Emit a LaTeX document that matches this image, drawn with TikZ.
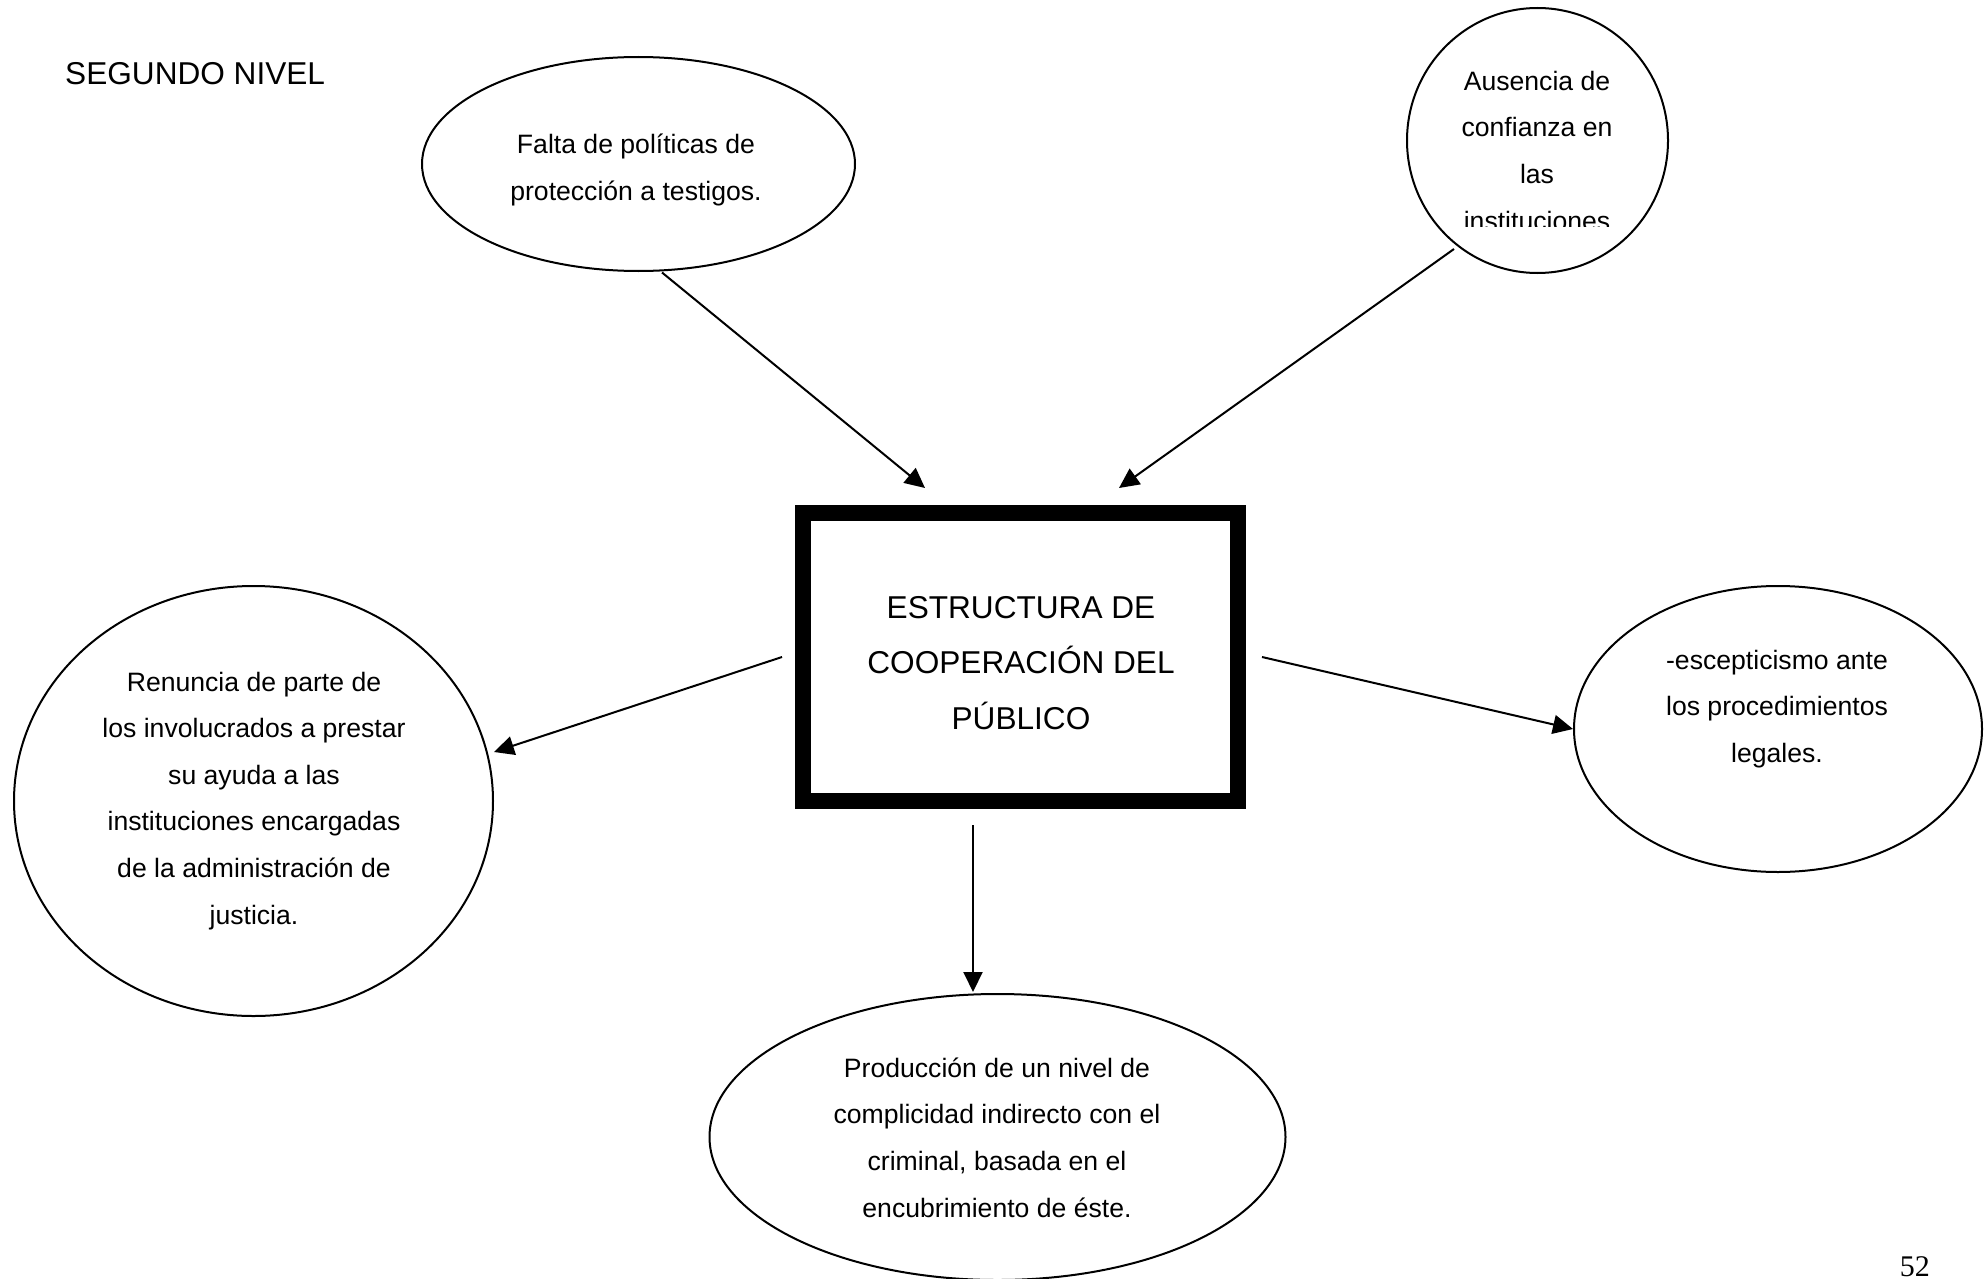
\documentclass[tikz,border=0pt]{standalone}
\usepackage{fontspec}
\setmainfont{Liberation Sans}
\newfontfamily\pagenumfont{Liberation Serif}
\usetikzlibrary{shapes.geometric,arrows.meta}
\tikzset{
  bubble/.style={ellipse,draw=black,line width=2pt,inner sep=0pt},
  smalltxt/.style={align=center,inner sep=0pt,anchor=base,font=\fontsize{26.6pt}{46.6pt}\selectfont},
  bigtxt/.style={align=center,inner sep=0pt,anchor=base,font=\fontsize{31.6pt}{55.3pt}\selectfont},
  mainbox/.style={rectangle,draw=black,line width=16pt,inner sep=0pt,minimum width=435pt,minimum height=288pt},
  arr/.style={line width=2pt,-{Triangle[length=20pt,width=19pt]}}
}
\begin{document}
\begin{tikzpicture}[x=1pt,y=-1pt]
\useasboundingbox (0,0) rectangle (1986,1279);
\fill[white] (0,0) rectangle (1986,1279);

% title
\node[bigtxt,anchor=base west] (title) at (65,84.5) {SEGUNDO NIVEL};

% central box (text anchored at baseline of its last line)
\node[mainbox] (box) at (1020.5,657) {};
\node[bigtxt] (boxtxt) at (1021,729) {ESTRUCTURA DE\\COOPERACIÓN DEL\\PÚBLICO};

% ellipses
\node[bubble,minimum width=433pt,minimum height=214pt] (falta) at (638.5,164) {};
\node[smalltxt] (faltatxt) at (636,200.5) {Falta de políticas de\\protección a testigos.};

\node[bubble,minimum width=261pt,minimum height=265pt] (ausencia) at (1537.5,140.5) {};
\begin{scope}
\clip (1390,0) rectangle (1690,226.5);
\node[smalltxt] (ausenciatxt) at (1537,230) {Ausencia de\\confianza en\\las\\instituciones};
\end{scope}

\node[bubble,minimum width=479pt,minimum height=430pt] (renuncia) at (253.5,801) {};
\node[smalltxt] (renunciatxt) at (254,924) {Renuncia de parte de\\los involucrados a prestar\\su ayuda a las\\instituciones encargadas\\de la administración de\\justicia.};

\node[bubble,minimum width=408pt,minimum height=286pt] (escep) at (1778,729) {};
\node[smalltxt] (esceptxt) at (1777,762.5) {-escepticismo ante\\los procedimientos\\legales.};

\node[bubble,minimum width=576pt,minimum height=286pt] (prod) at (997.5,1137) {};
\node[smalltxt] (prodtxt) at (997,1217) {Producción de un nivel de\\complicidad indirecto con el\\criminal, basada en el\\encubrimiento de éste.};

% connector ends
\coordinate (a1s) at (662,272.5);
\coordinate (a1e) at (925,488);
\coordinate (a2s) at (1454,249);
\coordinate (a2e) at (1119,488);
\coordinate (a3s) at (782,657);
\coordinate (a3e) at (494,752);
\coordinate (a4s) at (1262,657);
\coordinate (a4e) at (1573,729);
\coordinate (a5s) at (973,825);
\coordinate (a5e) at (973,992);

\draw[arr] (a1s) -- (a1e);
\draw[arr] (a2s) -- (a2e);
\draw[arr] (a3s) -- (a3e);
\draw[arr] (a4s) -- (a4e);
\draw[arr] (a5s) -- (a5e);

% page number
\node[inner sep=0pt,anchor=base east,font=\pagenumfont\fontsize{30pt}{36pt}\selectfont] (pagenum) at (1930,1276) {52};
\end{tikzpicture}
\end{document}
